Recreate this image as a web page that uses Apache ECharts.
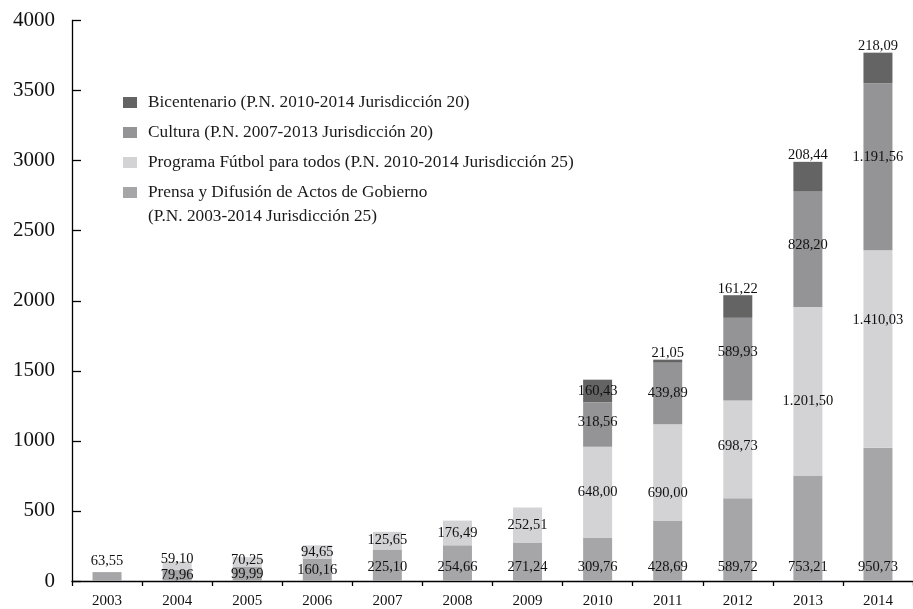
<!DOCTYPE html>
<html>
<head>
<meta charset="utf-8">
<script src="https://cdn.jsdelivr.net/npm/echarts@6/dist/echarts.min.js"></script>
<style>
  html, body { margin: 0; padding: 0; background: #fff; }
  #chart { width: 913px; height: 609px; }
</style>
</head>
<body>
<div id="chart"></div>
<script>
// Years on the category axis
const years = ['2003', '2004', '2005', '2006', '2007', '2008', '2009', '2010', '2011', '2012', '2013', '2014'];

// Amounts per programme (millions)
const prensa = [63.55, 79.96, 99.99, 160.16, 225.10, 254.66, 271.24, 309.76, 428.69, 589.72, 753.21, 950.73];
const futbol = [null, 59.10, 70.25, 94.65, 125.65, 176.49, 252.51, 648.00, 690.00, 698.73, 1201.50, 1410.03];
const cultura = [null, null, null, null, null, null, null, 318.56, 439.89, 589.93, 828.20, 1191.56];
const bicentenario = [null, null, null, null, null, null, null, 160.43, 21.05, 161.22, 208.44, 218.09];

// Value axis ticks
const yTicks = [0, 500, 1000, 1500, 2000, 2500, 3000, 3500, 4000];

const names = {
  bic: 'Bicentenario (P.N. 2010-2014 Jurisdicción 20)',
  cul: 'Cultura (P.N. 2007-2013 Jurisdicción 20)',
  fut: 'Programa Fútbol para todos (P.N. 2010-2014 Jurisdicción 25)',
  pre: 'Prensa y Difusión de Actos de Gobierno'
};
const preSecondLine = '(P.N. 2003-2014 Jurisdicción 25)';

const colors = { pre: '#a6a6a9', fut: '#d3d3d5', cul: '#949497', bic: '#646464' };

const FONT = '"Liberation Serif", "Times New Roman", serif';
const LEGEND_FONT_SIZE = 17.3;

// Spanish number format: 1.201,50
function fmt(v) {
  const parts = Number(v).toFixed(2).split('.');
  return parts[0].replace(/\B(?=(\d{3})+(?!\d))/g, '.') + ',' + parts[1];
}

// Per-bar label placement tweaks (index -> label options)
const labelTweaks = {
  pre: {
    0: { position: 'top', distance: 3 },
    1: { position: 'inside' },
    2: { position: 'inside' },
    3: { position: 'inside' }
  },
  fut: {
    1: { offset: [0, -6] },
    2: { offset: [0, -2] },
    9: { offset: [0, -3] },
    8: { offset: [0, 21] },
    10: { offset: [0, 10] },
    11: { offset: [0, -29] }
  },
  cul: {
    7: { offset: [0, -2] },
    9: { offset: [0, -7] },
    10: { offset: [0, -4] },
    11: { offset: [0, -10] }
  },
  bic: {
    8: { position: 'top', distance: -1 },
    9: { position: 'top', distance: -1 },
    10: { position: 'top', distance: -1 },
    11: { position: 'top', distance: -1 }
  }
};

function buildData(values, key) {
  return values.map(function (v, i) {
    if (v == null) return null;
    const item = { value: v };
    if (labelTweaks[key][i]) item.label = labelTweaks[key][i];
    return item;
  });
}

const baseLabel = {
  show: true,
  color: '#111',
  fontFamily: FONT,
  fontSize: 14.5,
  formatter: function (p) { return fmt(p.value); }
};

function makeSeries(key, values, labelDefaults) {
  return {
    name: names[key],
    type: 'bar',
    stack: 'total',
    barWidth: 29,
    itemStyle: { color: colors[key] },
    label: Object.assign({}, baseLabel, labelDefaults),
    emphasis: { disabled: true },
    data: buildData(values, key)
  };
}

const chart = echarts.init(document.getElementById('chart'), null, { renderer: 'canvas' });

chart.setOption({
  animation: false,
  backgroundColor: '#ffffff',
  textStyle: { fontFamily: FONT },
  grid: { left: 72, right: -1, top: 20.5, bottom: 26, containLabel: false },
  legend: {
    orient: 'vertical',
    left: 123,
    top: 94,
    padding: 0,
    itemWidth: 14,
    itemHeight: 11,
    itemGap: 13,
    icon: 'rect',
    selectedMode: false,
    textStyle: { fontFamily: FONT, fontSize: LEGEND_FONT_SIZE, color: '#1a1a1a', padding: [0, 0, 0, 6] },
    data: [names.bic, names.cul, names.fut, names.pre]
  },
  // second line of the last legend entry
  graphic: [{
    type: 'text',
    left: 148,
    top: 208,
    style: {
      text: preSecondLine,
      fontFamily: FONT,
      fontSize: LEGEND_FONT_SIZE,
      fill: '#1a1a1a'
    }
  }],
  xAxis: {
    type: 'category',
    data: years,
    axisLine: { lineStyle: { color: '#000', width: 1.3 } },
    axisTick: { show: true, length: 5, lineStyle: { color: '#000', width: 1.3 } },
    axisLabel: { color: '#111', fontFamily: FONT, fontSize: 15, margin: 13 }
  },
  yAxis: {
    type: 'value',
    min: yTicks[0],
    max: yTicks[yTicks.length - 1],
    interval: yTicks[1] - yTicks[0],
    splitLine: { show: false },
    axisLine: { show: true, lineStyle: { color: '#000', width: 1.3 } },
    axisTick: { show: true, inside: true, length: 9, lineStyle: { color: '#000', width: 1.3 } },
    axisLabel: {
      color: '#111', fontFamily: FONT, fontSize: 21, margin: 17,
      formatter: function (v) { return String(v); }
    }
  },
  series: [
    makeSeries('pre', prensa, { position: 'insideBottom', distance: 6 }),
    makeSeries('fut', futbol, { position: 'inside' }),
    makeSeries('cul', cultura, { position: 'inside' }),
    makeSeries('bic', bicentenario, { position: 'inside' })
  ]
});
</script>
</body>
</html>
